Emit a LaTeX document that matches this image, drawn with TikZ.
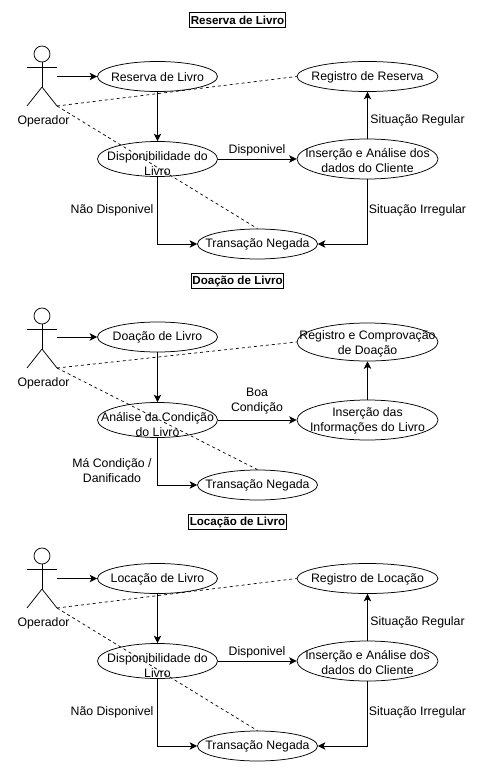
\documentclass[tikz,border=0pt]{standalone}
\usepackage{fontspec}
\setmainfont{Liberation Sans}
\usetikzlibrary{arrows.meta,shapes.geometric}
\tikzset{
  x=1pt,y=-1pt,
  every node/.style={font=\fontsize{12.3}{15}\selectfont,align=center,inner sep=0pt},
  uc/.style n args={4}{draw,ellipse,minimum width=#1,minimum height=#2,inner sep=0pt,line width=.75pt,label={[yshift=-#4]center:#3}},
  titlebox/.style={draw,rectangle,font=\fontsize{11.6}{15}\selectfont\bfseries,inner xsep=1pt,inner ysep=0pt,minimum height=15pt,line width=.8pt},
  flow/.style={draw,line width=.75pt,-{Stealth[length=7.5pt,width=7.5pt,inset=2pt]}},
  assoc/.style={draw,line width=.7pt,dash pattern=on 3pt off 3pt},
  actorline/.style={draw,line width=.75pt}
}
\newcommand{\actorfig}[2]{%
  \begin{scope}[yshift=-#2pt]
    \node[draw,circle,minimum size=16pt,line width=.75pt] (#1head) at (42,54) {};
    \coordinate (#1hip) at (42,87);
    \coordinate (#1armL) at (27,67);
    \coordinate (#1armR) at (57,67);
    \coordinate (#1legL) at (27,106);
    \coordinate (#1legR) at (57,106);
    \coordinate (#1out) at (57,77);
    \node (#1name) at (43.5,121.5) {Operador};
    \path[actorline] (#1head.south) -- (#1hip);
    \path[actorline] (#1armL) -- (#1armR);
    \path[actorline] (#1hip) -- (#1legL);
    \path[actorline] (#1hip) -- (#1legR);
  \end{scope}}
\newcommand{\flowsection}[4]{%
  \actorfig{#1}{#2}
  \begin{scope}[yshift=-#2pt]
    \node[uc={120pt}{30pt}{#3}{.5pt}] (#1a) at (157.5,76.5) {};
    \node[uc={120pt}{35pt}{Disponibilidade do\\Livro}{4.5pt}] (#1b) at (157.5,159) {};
    \node[uc={141pt}{30pt}{#4}{.5pt}] (#1c) at (367.5,76.5) {};
    \node[uc={141pt}{40pt}{Inserção e Análise dos\\dados do Cliente}{1.5pt}] (#1d) at (367.5,159) {};
    \node[uc={120pt}{30pt}{Transação Negada}{.5pt}] (#1e) at (257.5,244) {};
    \node (#1l1) at (257,150) {Disponivel};
    \node (#1l2) at (417.5,120) {Situação Regular};
    \node (#1l3) at (417.5,210) {Situação Irregular};
    \node (#1l4) at (112,210.5) {Não Disponivel};
  \end{scope}
  \path[flow] (#1out |- #1a.west) -- (#1a.west);
  \path[flow] (#1a) -- (#1b);
  \path[flow] (#1b) -- (#1d);
  \path[flow] (#1d) -- (#1c);
  \path[flow] (#1d.south) |- (#1e.east);
  \path[flow] (#1b.south) |- (#1e.west);
  \path[assoc] (#1legR) -- (#1c.west);
  \path[assoc] (#1legR) -- (#1e.north);
}
\begin{document}
\begin{tikzpicture}
\useasboundingbox (0,0) rectangle (482,770);
\fill[white] (0,0) rectangle (482,770);

\node[titlebox] (t1) at (237.5,20) {Reserva de Livro};
\flowsection{r}{0}{Reserva de Livro}{Registro de Reserva}

\node[titlebox] (t2) at (237.5,281) {Doação de Livro};
\actorfig{d}{262}
\begin{scope}[yshift=-262pt]
  \node[uc={120pt}{30pt}{Doação de Livro}{.5pt}] (da) at (157.5,75) {};
  \node[uc={120pt}{35pt}{Análise da Condição\\do Livro}{4.5pt}] (db) at (157.5,158) {};
  \node[uc={141pt}{38pt}{Registro e Comprovação\\de Doação}{2.3pt}] (dc) at (367.5,80) {};
  \node[uc={141pt}{40pt}{Inserção das\\Informações do Livro}{1pt}] (dd) at (367.5,158) {};
  \node[uc={120pt}{30pt}{Transação Negada}{.5pt}] (de) at (257.5,223) {};
  \node (dl1) at (257,139) {Boa\\Condição};
  \node (dl2) at (112,208.5) {Má Condição /\\Danificado};
\end{scope}
\path[flow] (dout |- da.west) -- (da.west);
\path[flow] (da) -- (db);
\path[flow] (db) -- (dd);
\path[flow] (dd) -- (dc);
\path[flow] (db.south) |- (de.west);
\path[assoc] (dlegR) -- (dc.west);
\path[assoc] (dlegR) -- (de.north);

\node[titlebox] (t3) at (237.5,522) {Locação de Livro};
\flowsection{l}{502}{Locação de Livro}{Registro de Locação}
\end{tikzpicture}
\end{document}
